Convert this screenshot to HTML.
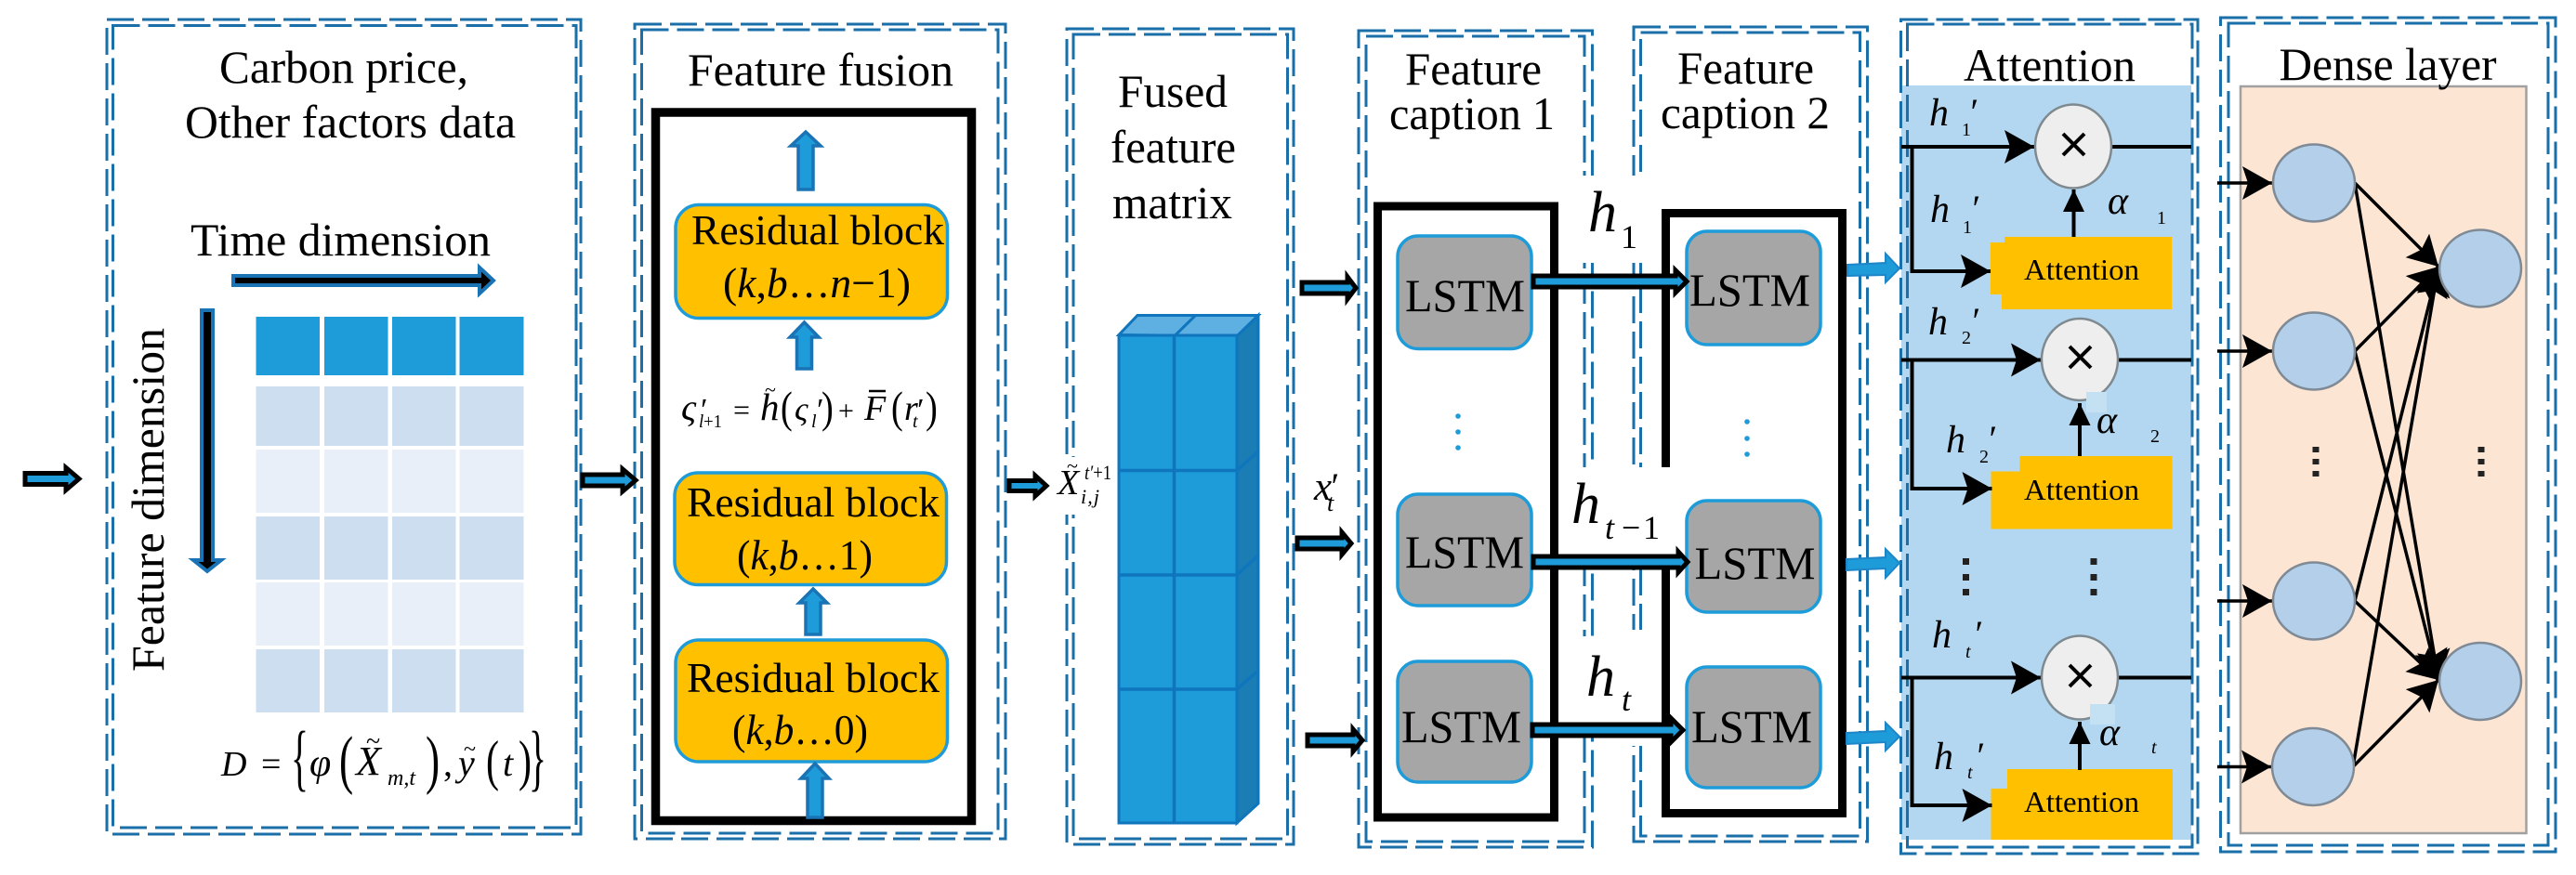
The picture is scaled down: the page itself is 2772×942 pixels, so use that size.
<!DOCTYPE html>
<html><head><meta charset="utf-8"><style>
html,body{margin:0;padding:0;background:#fff}
svg{display:block}
text{font-family:"Liberation Serif",serif;fill:#000}
.i{font-style:italic}
.d{fill:none;stroke:#1a6fa8;stroke-width:3;stroke-dasharray:29 9}
.k{fill:#1e9bd9;stroke:#000;stroke-width:5}
.u{fill:#1e9bd9;stroke:#1a73b5;stroke-width:3.5}
.r{fill:#ffc000;stroke:#1e9bd9;stroke-width:3.5}
.l{fill:#a6a6a6;stroke:#1e9bd9;stroke-width:3.5}
.b{fill:none;stroke:#000;stroke-width:9}
.g{fill:#ffc000}
.c{fill:#eeeeee;stroke:#7f8a90;stroke-width:2.5}
.n{fill:#b3cfea;stroke:#7f8a95;stroke-width:2.5}
.a{stroke:#000;stroke-width:4;fill:none;marker-end:url(#m)}
.s{stroke:#000;stroke-width:4;fill:none;marker-end:url(#m2)}
.e{stroke:#000;stroke-width:3.5;fill:none;marker-end:url(#m)}
.p{stroke:#000;stroke-width:4;fill:none}
</style></head><body>
<svg xmlns="http://www.w3.org/2000/svg" width="2772" height="942" viewBox="0 0 2772 942">
<defs>
<marker id="m" markerUnits="userSpaceOnUse" markerWidth="36" markerHeight="38" refX="32" refY="19" orient="auto"><path d="M0 1 L32 19 L0 37 L6 19Z" fill="#000"/></marker>
<marker id="m2" markerUnits="userSpaceOnUse" markerWidth="28" markerHeight="26" refX="24" refY="12" orient="auto"><path d="M0 0.500 L24 12 L0 23.500Z" fill="#000"/></marker>
</defs>
<rect width="2772" height="942" fill="#fff"/>

<!-- panel backgrounds -->
<rect x="2046" y="92" width="312" height="812" fill="#b3d7f0"/>
<rect x="2411" y="93" width="307.500" height="804" fill="#fde5d3" stroke="#a0a0a0" stroke-width="2.500"/>

<!-- dashed panels -->
<rect class="d" x="115" y="21" width="510" height="877"/><rect class="d" x="121.500" y="27.500" width="498.500" height="863.500"/>
<rect class="d" x="683" y="26" width="399" height="877"/><rect class="d" x="690.500" y="32" width="383.500" height="865"/>
<rect class="d" x="1148" y="31" width="244" height="878"/><rect class="d" x="1155" y="37" width="230.500" height="866"/>
<rect class="d" x="1462" y="33" width="251.500" height="879"/><rect class="d" x="1470" y="39" width="235" height="867"/>
<rect class="d" x="1758" y="29" width="251.500" height="877"/><rect class="d" x="1765.500" y="35" width="236" height="865"/>
<rect class="d" x="2045.500" y="21" width="319.500" height="898"/><rect class="d" x="2052.500" y="26" width="306.500" height="886"/>
<rect class="d" x="2389.500" y="19" width="360.500" height="898"/><rect class="d" x="2398" y="25" width="344" height="885"/>

<!-- panel 1 -->
<text x="236" y="89" font-size="50" textLength="268" lengthAdjust="spacingAndGlyphs">Carbon price,</text>
<text x="199" y="148" font-size="50" textLength="356" lengthAdjust="spacingAndGlyphs">Other factors data</text>
<text x="205" y="275" font-size="50" textLength="323" lengthAdjust="spacingAndGlyphs">Time dimension</text>
<text transform="translate(176,723) rotate(-90)" font-size="50" textLength="370" lengthAdjust="spacingAndGlyphs">Feature dimension</text>
<polygon points="251,297 516,297 516,288 531,302 516,316 516,307 251,307" fill="#000" stroke="#1a73b5" stroke-width="4"/>
<polygon points="217,334 229,334 229,603 238,603 223,615 208,603 217,603" fill="#000" stroke="#1a73b5" stroke-width="4"/>
<g fill="#1e9bd9">
<rect x="275.500" y="341" width="68.500" height="63"/><rect x="349" y="341" width="68.500" height="63"/><rect x="422" y="341" width="68.500" height="63"/><rect x="494.500" y="341" width="69" height="63"/>
</g>
<g fill="#cddef0">
<rect x="275.500" y="416" width="68.500" height="64"/><rect x="349" y="416" width="68.500" height="64"/><rect x="422" y="416" width="68.500" height="64"/><rect x="494.500" y="416" width="69" height="64"/>
<rect x="275.500" y="556" width="68.500" height="68"/><rect x="349" y="556" width="68.500" height="68"/><rect x="422" y="556" width="68.500" height="68"/><rect x="494.500" y="556" width="69" height="68"/>
<rect x="275.500" y="699" width="68.500" height="68"/><rect x="349" y="699" width="68.500" height="68"/><rect x="422" y="699" width="68.500" height="68"/><rect x="494.500" y="699" width="69" height="68"/>
</g>
<g fill="#e8eff9">
<rect x="275.500" y="484" width="68.500" height="68"/><rect x="349" y="484" width="68.500" height="68"/><rect x="422" y="484" width="68.500" height="68"/><rect x="494.500" y="484" width="69" height="68"/>
<rect x="275.500" y="627" width="68.500" height="68"/><rect x="349" y="627" width="68.500" height="68"/><rect x="422" y="627" width="68.500" height="68"/><rect x="494.500" y="627" width="69" height="68"/>
</g>
<text class="i" x="238" y="835" font-size="38">D</text>
<text x="281" y="835" font-size="38">=</text>
<text transform="translate(313,842) scale(.5,1)" font-size="79">{</text>
<text class="i" x="333" y="835" font-size="42">φ</text>
<text transform="translate(365,841) scale(.65,1)" font-size="70">(</text>
<text class="i" x="383" y="834" font-size="44">X</text>
<text x="394" y="807" font-size="28">~</text>
<text class="i" x="417" y="845" font-size="24">m,t</text>
<text transform="translate(458,841) scale(.65,1)" font-size="70">)</text>
<text x="477" y="835" font-size="40">,</text>
<text class="i" x="493" y="835" font-size="40">y</text>
<text x="499" y="814" font-size="24">~</text>
<text transform="translate(523,839) scale(.7,1)" font-size="60">(</text>
<text class="i" x="541" y="835" font-size="40">t</text>
<text transform="translate(558,839) scale(.7,1)" font-size="60">)</text>
<text transform="translate(569,842) scale(.5,1)" font-size="79">}</text>
<polygon class="k" points="27,509.500 71,509.500 71,503.500 85,515.500 71,527.500 71,521.500 27,521.500"/>
<polygon class="k" points="627,511 670,511 670,505 684,517 670,529 670,523 627,523"/>

<!-- panel 2 -->
<text x="740" y="92" font-size="50" textLength="286" lengthAdjust="spacingAndGlyphs">Feature fusion</text>
<rect class="b" x="705.500" y="121" width="340" height="762.500" style="stroke-width:9.500"/>
<rect class="r" x="727" y="220.500" width="292.500" height="122" rx="25"/>
<rect class="r" x="726" y="509" width="292.500" height="120.500" rx="25"/>
<rect class="r" x="727" y="689" width="292.500" height="131" rx="25"/>
<text x="744" y="263" font-size="46" textLength="272" lengthAdjust="spacingAndGlyphs">Residual block</text>
<text x="778" y="320" font-size="46" textLength="202" lengthAdjust="spacingAndGlyphs">(<tspan class="i">k</tspan>,<tspan class="i">b</tspan>…<tspan class="i">n</tspan>−1)</text>
<text x="739" y="556" font-size="46" textLength="272" lengthAdjust="spacingAndGlyphs">Residual block</text>
<text x="793" y="613" font-size="46" textLength="146" lengthAdjust="spacingAndGlyphs">(<tspan class="i">k</tspan>,<tspan class="i">b</tspan>…1)</text>
<text x="739" y="745" font-size="46" textLength="272" lengthAdjust="spacingAndGlyphs">Residual block</text>
<text x="788" y="801" font-size="46" textLength="146" lengthAdjust="spacingAndGlyphs">(<tspan class="i">k</tspan>,<tspan class="i">b</tspan>…0)</text>
<polygon class="u" points="867,142 883,157 875,157 875,204 859,204 859,157 851,157"/>
<polygon class="u" points="865.500,347 881,363 873.500,363 873.500,397 857.500,397 857.500,363 850,363"/>
<polygon class="u" points="875,634 890,649 883,649 883,683 867,683 867,649 860,649"/>
<polygon class="u" points="877,822 892,838 885,838 885,880 869,880 869,838 862,838"/>
<text class="i" x="733" y="452" font-size="40">ς</text>
<text class="i" x="752" y="452" font-size="34">′</text>
<text class="i" x="752" y="460" font-size="20" textLength="25" lengthAdjust="spacingAndGlyphs">l<tspan font-style="normal">+1</tspan></text>
<text x="789" y="452" font-size="32">=</text>
<text class="i" x="818" y="452" font-size="41">h</text>
<text x="823" y="427" font-size="22">~</text>
<text transform="translate(840,454.500) scale(.8,1)" font-size="48">(</text>
<text class="i" x="855" y="452" font-size="36">ς</text>
<text class="i" x="877" y="452" font-size="34">′</text>
<text class="i" x="873" y="460" font-size="20">l</text>
<text transform="translate(884,454.500) scale(.8,1)" font-size="48">)</text>
<text x="902" y="452" font-size="30">+</text>
<text class="i" x="930" y="452" font-size="38">F</text>
<line x1="935" y1="421" x2="953" y2="421" stroke="#000" stroke-width="2.500"/>
<text transform="translate(959,454.500) scale(.8,1)" font-size="48">(</text>
<text class="i" x="973" y="452" font-size="38">r</text>
<text class="i" x="985" y="452" font-size="34">′</text>
<text class="i" x="982" y="460" font-size="20">t</text>
<text transform="translate(996,454.500) scale(.8,1)" font-size="48">)</text>

<!-- panel 3 -->
<text x="1203" y="115" font-size="50" textLength="118" lengthAdjust="spacingAndGlyphs">Fused</text>
<text x="1195" y="175" font-size="50" textLength="135" lengthAdjust="spacingAndGlyphs">feature</text>
<text x="1197" y="235" font-size="50" textLength="129" lengthAdjust="spacingAndGlyphs">matrix</text>
<polygon points="1204,360.500 1224,339.500 1354,339.500 1331,362" fill="#5fb0e2" stroke="#0f75bc" stroke-width="3"/>
<line x1="1263.500" y1="362" x2="1286" y2="340" stroke="#0f75bc" stroke-width="3"/>
<polygon points="1331,362 1354,339.500 1354,865 1331,886" fill="#1a7db3" stroke="#0f75bc" stroke-width="3"/>
<rect x="1204" y="361" width="127" height="525" fill="#1e9bd9" stroke="#0f75bc" stroke-width="3"/>
<g stroke="#0f75bc" stroke-width="3.500">
<line x1="1263.500" y1="361" x2="1263.500" y2="886"/>
<line x1="1204" y1="506.500" x2="1331" y2="506.500"/><line x1="1204" y1="619" x2="1331" y2="619"/><line x1="1204" y1="742" x2="1331" y2="742"/>
<line x1="1331" y1="506.500" x2="1354" y2="486"/><line x1="1331" y1="619" x2="1354" y2="598"/><line x1="1331" y1="742" x2="1354" y2="722"/>
</g>
<rect x="1145" y="492" width="15" height="62" fill="#fff"/>
<text class="i" x="1138" y="532" font-size="38">X</text>
<text x="1148" y="509" font-size="22">~</text>
<text class="i" x="1167" y="516" font-size="22" textLength="29" lengthAdjust="spacingAndGlyphs">t′<tspan font-style="normal">+1</tspan></text>
<text class="i" x="1163" y="542" font-size="22" textLength="20" lengthAdjust="spacing">i,j</text>
<polygon class="k" points="1086,517.500 1114,517.500 1114,512 1126,523 1114,534 1114,528.500 1086,528.500"/>
<polygon class="k" points="1401,304 1450,304 1450,298 1459,310 1450,322 1450,316 1401,316"/>
<polygon class="k" points="1396,579 1444,579 1444,573 1454,585 1444,597 1444,591 1396,591"/>
<polygon class="k" points="1407,791 1456,791 1456,785 1466,797 1456,809 1456,803 1407,803"/>
<text class="i" x="1414" y="538" font-size="43">x</text>
<text class="i" x="1430" y="537" font-size="40">′</text>
<text class="i" x="1428" y="550" font-size="26">t</text>

<!-- panel 4/5 -->
<text x="1512" y="91" font-size="50" textLength="147" lengthAdjust="spacingAndGlyphs">Feature</text>
<text x="1495" y="139" font-size="50" textLength="178" lengthAdjust="spacingAndGlyphs">caption 1</text>
<text x="1805" y="90" font-size="50" textLength="147" lengthAdjust="spacingAndGlyphs">Feature</text>
<text x="1787" y="138" font-size="50" textLength="182" lengthAdjust="spacingAndGlyphs">caption 2</text>
<rect class="b" x="1482.500" y="222" width="190" height="658"/>
<rect class="b" x="1792.500" y="229.500" width="190" height="646"/>
<!-- white patches -->
<rect x="1677" y="189" width="109" height="94" fill="#fff"/>
<rect x="1677" y="503" width="135" height="95" fill="#fff"/>
<rect x="1698" y="685" width="24" height="108" fill="#fff"/>
<rect x="1752" y="678" width="20" height="125" fill="#fff"/>

<rect class="l" x="1504" y="254" width="144" height="121.500" rx="22"/>
<rect class="l" x="1504" y="532" width="144" height="120" rx="22"/>
<rect class="l" x="1504" y="712" width="144" height="130" rx="22"/>
<rect class="l" x="1815" y="249" width="144" height="122" rx="22"/>
<rect class="l" x="1815" y="539" width="144" height="120" rx="22"/>
<rect class="l" x="1815" y="718" width="144" height="130" rx="22"/>
<text x="1512" y="335" font-size="50" textLength="129" lengthAdjust="spacingAndGlyphs">LSTM</text>
<text x="1512" y="611" font-size="50" textLength="128" lengthAdjust="spacingAndGlyphs">LSTM</text>
<text x="1508" y="799" font-size="50" textLength="129" lengthAdjust="spacingAndGlyphs">LSTM</text>
<text x="1818" y="329" font-size="50" textLength="130" lengthAdjust="spacingAndGlyphs">LSTM</text>
<text x="1823.500" y="623" font-size="50" textLength="130" lengthAdjust="spacingAndGlyphs">LSTM</text>
<text x="1820" y="799" font-size="50" textLength="130" lengthAdjust="spacingAndGlyphs">LSTM</text>
<g fill="#1e9bd9">
<circle cx="1569" cy="448" r="2.800"/><circle cx="1569" cy="465" r="2.800"/><circle cx="1569" cy="482" r="2.800"/>
<circle cx="1880" cy="454" r="2.800"/><circle cx="1880" cy="472" r="2.800"/><circle cx="1880" cy="489" r="2.800"/>
</g>
<polygon fill="#1e9bd9" stroke="#000" stroke-width="5" points="1650,297 1803,297 1803,291 1815,303 1803,315 1803,309 1650,309"/>
<polygon fill="#1e9bd9" stroke="#000" stroke-width="5" points="1650,599 1806,599 1806,594 1816,605 1806,616 1806,611 1650,611"/>
<polygon fill="#1e9bd9" stroke="#000" stroke-width="5" points="1649,780 1798,780 1798,773 1811,786 1798,799 1798,792 1649,792"/>
<text class="i" x="1709" y="249" font-size="62">h</text>
<text x="1744" y="267" font-size="36">1</text>
<text class="i" x="1691" y="563" font-size="62">h</text>
<text class="i" x="1727" y="580" font-size="36">t</text>
<text x="1745" y="580" font-size="36" textLength="41" lengthAdjust="spacing">− 1</text>
<text class="i" x="1707" y="749" font-size="62">h</text>
<text class="i" x="1745" y="765" font-size="36">t</text>
<polygon fill="#1e9bd9" stroke="#1e86c8" stroke-width="2" points="1988,285 2029,283 2029,273 2044,289 2029,304 2029,296 1988,297"/>
<polygon fill="#1e9bd9" stroke="#1e86c8" stroke-width="2" points="1987,602 2029,600 2029,591 2044,606 2029,622 2029,612 1987,614"/>
<polygon fill="#1e9bd9" stroke="#1e86c8" stroke-width="2" points="1987,789 2029,787 2029,778 2044,793 2029,808 2029,799 1987,801"/>

<!-- panel 6 -->
<text x="2113" y="87" font-size="50" textLength="185" lengthAdjust="spacingAndGlyphs">Attention</text>
<g>
<rect class="g" x="2142" y="261" width="195" height="56"/><rect class="g" x="2157" y="255" width="180" height="62"/><rect class="g" x="2154" y="300" width="183" height="33"/>
<rect class="g" x="2142.500" y="507.500" width="195" height="62"/><rect class="g" x="2173.500" y="491" width="164" height="78.500"/>
<rect class="g" x="2142.500" y="849" width="195" height="55"/><rect class="g" x="2160" y="828" width="178" height="76"/>
</g>
<text x="2178" y="301" font-size="32" textLength="124" lengthAdjust="spacingAndGlyphs">Attention</text>
<text x="2178" y="538" font-size="32" textLength="124" lengthAdjust="spacingAndGlyphs">Attention</text>
<text x="2178" y="874" font-size="32" textLength="124" lengthAdjust="spacingAndGlyphs">Attention</text>

<line class="p" x1="2272" y1="158" x2="2358" y2="158"/>
<line class="p" x1="2279" y1="387.500" x2="2358" y2="387.500"/>
<line class="p" x1="2279" y1="729.500" x2="2358" y2="729.500"/>
<line class="a" x1="2046" y1="158" x2="2189" y2="158"/>
<line class="a" x1="2046" y1="387.500" x2="2196" y2="387.500"/>
<line class="a" x1="2046" y1="729.500" x2="2196" y2="729.500"/>
<polyline class="a" points="2057.500,158 2057.500,292 2142,292"/>
<polyline class="a" points="2057.500,387.500 2057.500,526 2143.500,526"/>
<polyline class="a" points="2057.500,729.500 2057.500,867 2143.500,867"/>
<line class="s" x1="2231.500" y1="255" x2="2231.500" y2="204"/>
<line class="s" x1="2238" y1="491" x2="2238" y2="434"/>
<line class="s" x1="2238" y1="829" x2="2238" y2="777"/>
<ellipse class="c" cx="2231" cy="157.500" rx="41" ry="45"/>
<ellipse class="c" cx="2238" cy="387" rx="41" ry="44"/>
<ellipse class="c" cx="2238" cy="729.500" rx="41" ry="45"/>
<g stroke="#000" stroke-width="4">
<line x1="2220" y1="144" x2="2243" y2="167"/><line x1="2243" y1="144" x2="2220" y2="167"/>
<line x1="2227" y1="373" x2="2250" y2="396"/><line x1="2250" y1="373" x2="2227" y2="396"/>
<line x1="2227" y1="716" x2="2250" y2="739"/><line x1="2250" y1="716" x2="2227" y2="739"/>
</g>
<rect x="2245" y="422" width="22" height="22" fill="#c4e0f3"/>
<rect x="2249" y="758" width="27" height="22" fill="#c4e0f3"/>

<text class="i" x="2076" y="135" font-size="42">h</text><text x="2118" y="134" font-size="40" class="i">′</text><text x="2111" y="146" font-size="20">1</text>
<text class="i" x="2077" y="239" font-size="42">h</text><text x="2120" y="238" font-size="40" class="i">′</text><text x="2112" y="251" font-size="20">1</text>
<text class="i" x="2075" y="360" font-size="42">h</text><text x="2120" y="359" font-size="40" class="i">′</text><text x="2111" y="370" font-size="20">2</text>
<text class="i" x="2094" y="487" font-size="42">h</text><text x="2138" y="486" font-size="40" class="i">′</text><text x="2130" y="498" font-size="20">2</text>
<text class="i" x="2079" y="697" font-size="42">h</text><text x="2123" y="696" font-size="40" class="i">′</text><text class="i" x="2115" y="708" font-size="20">t</text>
<text class="i" x="2081" y="828" font-size="42">h</text><text x="2125" y="827" font-size="40" class="i">′</text><text class="i" x="2117" y="838" font-size="20">t</text>
<text class="i" x="2268" y="230" font-size="42">α</text><text x="2321" y="241" font-size="20">1</text>
<text class="i" x="2256" y="466" font-size="42">α</text><text x="2314" y="476" font-size="20">2</text>
<text class="i" x="2259" y="802" font-size="42">α</text><text class="i" x="2315" y="811" font-size="20">t</text>
<g fill="#222">
<rect x="2112" y="601" width="7" height="7"/><rect x="2112" y="618" width="7" height="7"/><rect x="2112" y="634" width="7" height="7"/>
<rect x="2249.500" y="601" width="7" height="7"/><rect x="2249.500" y="618" width="7" height="7"/><rect x="2249.500" y="634" width="7" height="7"/>
</g>

<!-- panel 7 -->
<text x="2452.500" y="86" font-size="50" textLength="234" lengthAdjust="spacingAndGlyphs">Dense layer</text>
<line class="e" x1="2386" y1="197" x2="2445" y2="197"/>
<line class="e" x1="2386" y1="378" x2="2445" y2="378"/>
<line class="e" x1="2386" y1="647" x2="2445" y2="647"/>
<line class="e" x1="2386" y1="825.500" x2="2444" y2="825.500"/>
<line class="e" x1="2534" y1="197" x2="2624" y2="287"/>
<line class="e" x1="2534" y1="197" x2="2624" y2="732"/>
<line class="e" x1="2534" y1="378" x2="2624" y2="287"/>
<line class="e" x1="2534" y1="378" x2="2624" y2="732"/>
<line class="e" x1="2534" y1="647" x2="2624" y2="287"/>
<line class="e" x1="2534" y1="647" x2="2624" y2="732"/>
<line class="e" x1="2532" y1="825.500" x2="2624" y2="287"/>
<line class="e" x1="2532" y1="825.500" x2="2624" y2="732"/>
<ellipse class="n" cx="2490" cy="197" rx="44" ry="41.500"/>
<ellipse class="n" cx="2490" cy="378" rx="44" ry="41.500"/>
<ellipse class="n" cx="2490" cy="647" rx="44" ry="41.500"/>
<ellipse class="n" cx="2489" cy="825.500" rx="44" ry="41.500"/>
<ellipse class="n" cx="2669" cy="289" rx="44" ry="41.500"/>
<ellipse class="n" cx="2669" cy="733.500" rx="44" ry="41.500"/>
<g fill="#222">
<rect x="2488.500" y="481" width="7" height="6"/><rect x="2488.500" y="494" width="7" height="6"/><rect x="2488.500" y="507" width="7" height="6"/>
<rect x="2666.500" y="481" width="7" height="6"/><rect x="2666.500" y="494" width="7" height="6"/><rect x="2666.500" y="507" width="7" height="6"/>
</g>
</svg>
</body></html>
